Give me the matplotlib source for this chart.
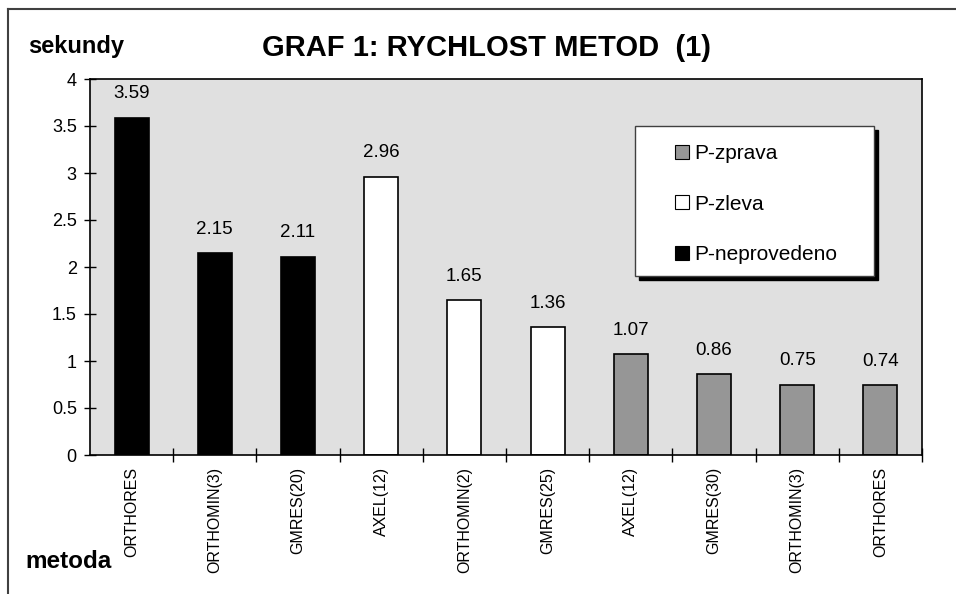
import numpy as np
import matplotlib.pyplot as plt
from matplotlib.patches import Patch, Rectangle
from matplotlib.lines import Line2D

plt.rcParams['font.family'] = ['Liberation Sans', 'DejaVu Sans']

metody = ['ORTHORES', 'ORTHOMIN(3)', 'GMRES(20)', 'AXEL(12)', 'ORTHOMIN(2)',
          'GMRES(25)', 'AXEL(12)', 'GMRES(30)', 'ORTHOMIN(3)', 'ORTHORES']
casy = [3.59, 2.15, 2.11, 2.96, 1.65, 1.36, 1.07, 0.86, 0.75, 0.74]
skupiny = ['P-neprovedeno'] * 3 + ['P-zleva'] * 3 + ['P-zprava'] * 4
barvy = {'P-zprava': '#969696', 'P-zleva': '#ffffff', 'P-neprovedeno': '#000000'}

W, H = 956, 594
fig = plt.figure(figsize=(W / 100, H / 100), dpi=100)
ax = fig.add_axes([90 / W, 1 - 455 / H, 832 / W, 376 / H])
ax.set_facecolor('#e0e0e0')

x = np.arange(len(casy))
ax.bar(x, casy, width=0.41, color=[barvy[s] for s in skupiny],
       edgecolor='black', linewidth=1.2, zorder=2)

for xi, v in zip(x, casy):
    ax.annotate(f'{v:.2f}', (xi, v), xytext=(0, 11), textcoords='offset points',
                ha='center', va='bottom', fontsize=13.5)

ax.set_xlim(-0.5, len(casy) - 0.5)
ax.set_ylim(0, 4)
ax.set_yticks(np.arange(0, 4.01, 0.5))
ax.set_yticklabels(['0', '0.5', '1', '1.5', '2', '2.5', '3', '3.5', '4'], fontsize=13)
ax.tick_params(axis='y', direction='inout', length=9, width=1, pad=5)

ax.set_xticks(np.arange(0.5, len(casy), 1))
ax.set_xticklabels([])
ax.tick_params(axis='x', direction='inout', length=10, width=1)
for xi, m in zip(x, metody):
    ax.text(xi, -0.13, m, rotation=90, ha='center', va='top', fontsize=11.5,
            clip_on=False)

for s in ax.spines.values():
    s.set_linewidth(1.2)
    s.set_color('black')

# legenda - ramecek se stinem
lx0, ly0, lx1, ly1 = 635, 126, 874, 276
fig.add_artist(Rectangle((lx0 / W + 4 / W, 1 - ly1 / H - 4 / H), (lx1 - lx0) / W, (ly1 - ly0) / H,
                         transform=fig.transFigure, facecolor='black', edgecolor='black',
                         zorder=3))
fig.add_artist(Rectangle((lx0 / W, 1 - ly1 / H), (lx1 - lx0) / W, (ly1 - ly0) / H,
                         transform=fig.transFigure, facecolor='white', edgecolor='#404040',
                         linewidth=1, zorder=4))
handles = [Patch(facecolor=barvy[k], edgecolor='black', linewidth=0.8)
           for k in ['P-zprava', 'P-zleva', 'P-neprovedeno']]
leg = fig.legend(handles, ['P-zprava', 'P-zleva', 'P-neprovedeno'],
                 loc='upper left', bbox_to_anchor=(675 / W, 1 - 144 / H),
                 fontsize=15, frameon=False, handlelength=0.65, handleheight=0.65,
                 handletextpad=0.25, labelspacing=1.52, borderpad=0, borderaxespad=0)
leg.set_zorder(5)

fig.text(487 / W, 1 - 48 / H, 'GRAF 1: RYCHLOST METOD  (1)', ha='center', va='center',
         fontsize=21, fontweight='bold')
fig.text(28 / W, 1 - 47 / H, 'sekundy', ha='left', va='center',
         fontsize=17, fontweight='bold')
fig.text(25 / W, 1 - 562 / H, 'metoda', ha='left', va='center',
         fontsize=17.5, fontweight='bold')

# ramecek okolo grafu
fig.add_artist(Line2D([8 / W, 8 / W], [0, 1 - 9 / H], color='#404040', linewidth=1.5))
fig.add_artist(Line2D([8 / W, 1], [1 - 9 / H, 1 - 9 / H], color='#404040', linewidth=1.5))

fig.savefig('out.png', dpi=100)
